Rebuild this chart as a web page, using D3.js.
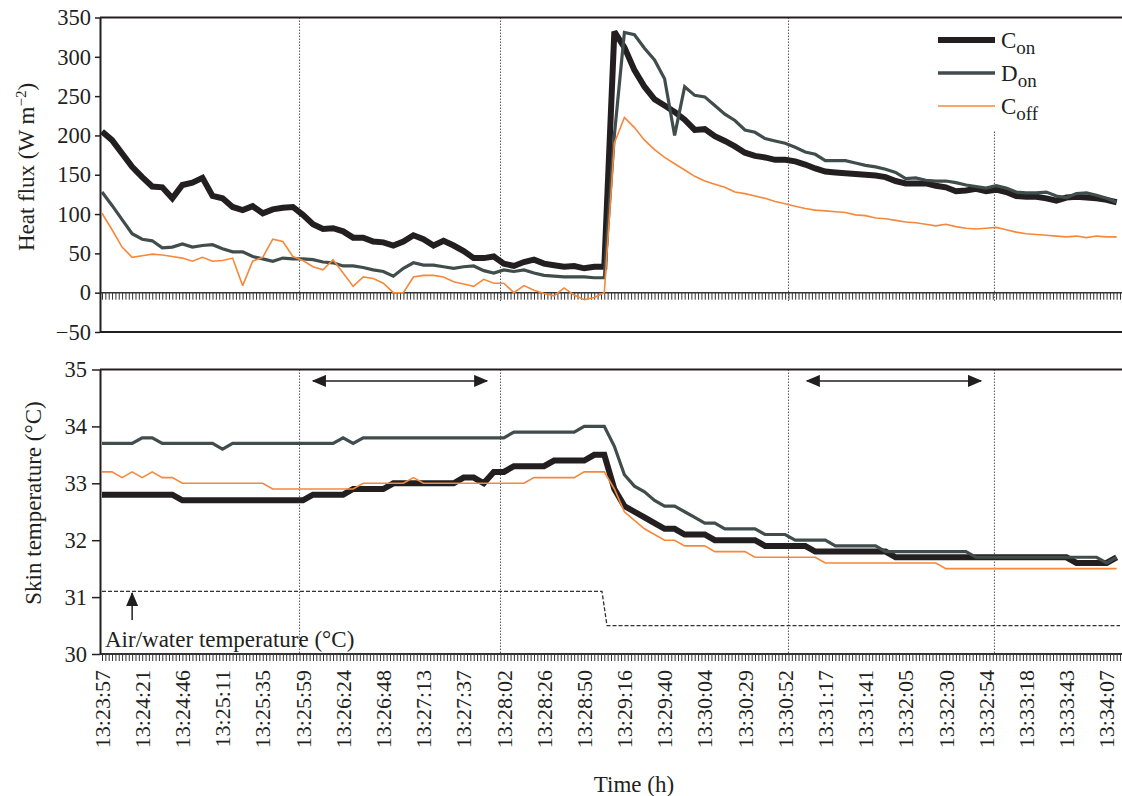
<!DOCTYPE html>
<html>
<head>
<meta charset="utf-8">
<script src="https://cdn.jsdelivr.net/npm/d3@7"></script>
<style>
  body { margin: 0; background: #fff; }
  svg text { font-family: "Liberation Serif", "Times New Roman", serif; fill: #231f20; }
</style>
</head>
<body>
<svg id="chart" width="1122" height="796"></svg>
<script>
// ---- data ----
// category labels, one every 12 samples
const timeLabels = ['13:23:57','13:24:21','13:24:46','13:25:11','13:25:35','13:25:59','13:26:24','13:26:48',
  '13:27:13','13:27:37','13:28:02','13:28:26','13:28:50','13:29:16','13:29:40','13:30:04','13:30:29',
  '13:30:52','13:31:17','13:31:41','13:32:05','13:32:30','13:32:54','13:33:18','13:33:43','13:34:07'];
const labelStep = 12;
const lastSample = 304;
const sampleStep = 3; // series below are read every 3rd sample

const heatTicks = [-50, 0, 50, 100, 150, 200, 250, 300, 350];
const tempTicks = [30, 31, 32, 33, 34, 35];

// heat flux (W m-2)
const heatCon = [205,194,177,160,147,135,134,120,137,140, 146,123,120,109,105,110,101,106,108,109,
  99,87,81,82,78,70,70,65,64,60, 65,73,68,60,66,60,53,44,44,46, 37,34,39,42,37,35,33,34,31,33,
  33,332,312,283,262,246,238,230,220,207, 208,199,193,186,178,174,172,169,169,167,
  163,158,154,153,152,151,150,149,147,142, 139,139,139,136,134,129,130,132,129,131,
  128,123,122,122,120,117,121,122,121,120, 118,115];
const heatDon = [128,111,93,75,68,66,57,58,62,58, 60,61,56,52,52,46,43,40,44,43,
  43,42,39,38,34,34,32,29,27,21, 31,38,35,35,33,31,33,34,28,25, 29,27,29,25,22,21,20,20,20,19,
  19,200,331,328,311,296,272,200,262,251, 249,238,227,219,207,204,196,193,190,185,
  179,176,168,168,168,165,162,160,157,153, 145,146,143,142,142,140,137,135,133,136,
  133,128,127,127,128,123,121,126,127,124, 120,115];
const heatCoff = [101,80,58,45,47,49,48,46,44,40, 45,40,41,44,9,40,45,68,65,46,
  41,33,29,42,25,8,20,18,12,0, 0,20,22,22,20,14,11,8,17,12, 12,0,9,3,-1,-4,6,-3,-9,-6,
  0,190,223,210,194,182,172,164,156,148, 142,138,134,128,126,123,120,116,113,110,
  107,105,104,103,102,99,98,95,94,92, 90,89,87,85,87,84,82,81,82,83,
  80,77,75,74,73,72,71,72,70,72, 71,71];

// skin temperature (°C)
const skinCon = [32.8,32.8,32.8,32.8,32.8,32.8,32.8,32.8,32.7,32.7, 32.7,32.7,32.7,32.7,32.7,32.7,32.7,32.7,32.7,32.7,
  32.7,32.8,32.8,32.8,32.8,32.9,32.9,32.9,32.9,33.0, 33.0,33.0,33.0,33.0,33.0,33.0,33.1,33.1,33.0,33.2,
  33.2,33.3,33.3,33.3,33.3,33.4,33.4,33.4,33.4,33.5, 33.5,32.9,32.6,32.5,32.4,32.3,32.2,32.2,32.1,32.1,
  32.1,32.0,32.0,32.0,32.0,32.0,31.9,31.9,31.9,31.9, 31.9,31.8,31.8,31.8,31.8,31.8,31.8,31.8,31.8,31.7,
  31.7,31.7,31.7,31.7,31.7,31.7,31.7,31.7,31.7,31.7, 31.7,31.7,31.7,31.7,31.7,31.7,31.7,31.6,31.6,31.6,
  31.6,31.7];
const skinDon = [33.7,33.7,33.7,33.7,33.8,33.8,33.7,33.7,33.7,33.7, 33.7,33.7,33.6,33.7,33.7,33.7,33.7,33.7,33.7,33.7,
  33.7,33.7,33.7,33.7,33.8,33.7,33.8,33.8,33.8,33.8, 33.8,33.8,33.8,33.8,33.8,33.8,33.8,33.8,33.8,33.8,
  33.8,33.9,33.9,33.9,33.9,33.9,33.9,33.9,34.0,34.0, 34.0,33.65,33.15,32.95,32.85,32.7,32.6,32.6,32.5,32.4,
  32.3,32.3,32.2,32.2,32.2,32.2,32.1,32.1,32.1,32.0, 32.0,32.0,32.0,31.9,31.9,31.9,31.9,31.9,31.8,31.8,
  31.8,31.8,31.8,31.8,31.8,31.8,31.8,31.7,31.7,31.7, 31.7,31.7,31.7,31.7,31.7,31.7,31.7,31.7,31.7,31.7,
  31.6,31.7];
const skinCoff = [33.2,33.2,33.1,33.2,33.1,33.2,33.1,33.1,33.0,33.0, 33.0,33.0,33.0,33.0,33.0,33.0,33.0,32.9,32.9,32.9,
  32.9,32.9,32.9,32.9,32.9,32.9,33.0,33.0,33.0,33.0, 33.0,33.1,33.0,33.0,33.0,33.0,33.0,33.0,33.0,33.0,
  33.0,33.0,33.0,33.1,33.1,33.1,33.1,33.1,33.2,33.2, 33.2,32.9,32.5,32.35,32.2,32.1,32.0,32.0,31.9,31.9,
  31.9,31.8,31.8,31.8,31.8,31.7,31.7,31.7,31.7,31.7, 31.7,31.7,31.6,31.6,31.6,31.6,31.6,31.6,31.6,31.6,
  31.6,31.6,31.6,31.6,31.5,31.5,31.5,31.5,31.5,31.5, 31.5,31.5,31.5,31.5,31.5,31.5,31.5,31.5,31.5,31.5,
  31.5,31.5];

// air/water temperature, step change
const airIdx = [0, 149.3, 150.8, 304];
const airTemp = [31.1, 31.1, 30.5, 30.5];

// dotted vertical markers (sample index) and the averaging windows (arrows)
const markerIdx = [59, 119, 205, 266.5];
const arrowSpans = [[63, 115], [210.5, 262.5]];

// ---- drawing ----
const ink = '#231f20';
const colCon = '#231f20', colDon = '#414d4d', colCoff = '#f5883a';
const sampleIdx = heatCon.map((_, k) => k * sampleStep);

const svg = d3.select('#chart');
const x = d3.scaleLinear().domain([0, lastSample]).range([102, 1120]);
const yHeat = d3.scaleLinear().domain([-50, 350]).range([332, 17.5]);
const yTemp = d3.scaleLinear().domain([30, 35]).range([654, 369.5]);

const defs = svg.append('defs');
defs.append('marker')
    .attr('id', 'head')
    .attr('viewBox', '0 0 14 12')
    .attr('refX', 13).attr('refY', 6)
    .attr('markerWidth', 14).attr('markerHeight', 12)
    .attr('markerUnits', 'userSpaceOnUse')
    .attr('orient', 'auto-start-reverse')
  .append('path')
    .attr('d', 'M0,0L14,6L0,12Z')
    .attr('fill', ink);

function drawMarkers(y0s, y1) {
  svg.append('g').selectAll('line')
    .data(markerIdx)
    .enter().append('line')
      .attr('x1', d => x(d)).attr('x2', d => x(d))
      .attr('y1', (d, i) => y0s[i]).attr('y2', y1)
      .attr('stroke', '#555')
      .attr('stroke-width', 1)
      .attr('stroke-dasharray', '1.5,1.5');
}

function minorTicks(yPos) {
  const ax = d3.axisBottom(x)
    .tickValues(d3.range(0, lastSample + 1))
    .tickSize(7)
    .tickFormat('');
  const g = svg.append('g').attr('transform', `translate(0,${yPos})`).call(ax);
  g.select('.domain').remove();
  g.selectAll('.tick line').attr('stroke', '#333').attr('stroke-width', 1);
}

function drawSeries(data, yScale, color, width) {
  const line = d3.line()
    .x((d, k) => x(sampleIdx[k]))
    .y(d => yScale(d));
  svg.append('path')
    .datum(data)
    .attr('d', line)
    .attr('fill', 'none')
    .attr('stroke', color)
    .attr('stroke-width', width)
    .attr('stroke-linejoin', 'miter')
    .attr('stroke-miterlimit', 2);
}

function leftAxis(yScale, ticks, size, pad) {
  const g = svg.append('g')
    .attr('transform', 'translate(100,0)')
    .call(d3.axisLeft(yScale).tickValues(ticks).tickSize(size).tickPadding(pad)
      .tickSizeOuter(0).tickFormat(d3.format('d')));
  g.select('.domain').attr('stroke', ink).attr('stroke-width', 2);
  g.selectAll('.tick line').attr('stroke', ink).attr('stroke-width', 1.5);
  g.selectAll('.tick text')
    .style('font-family', '"Liberation Serif", serif')
    .style('font-size', '22.5px')
    .attr('fill', ink);
}

// ---- top panel: heat flux ----
drawMarkers(markerIdx.map((d, i) => i === 3 ? yHeat(205) : yHeat(350)), yHeat(0) + 9);
minorTicks(yHeat(0));
svg.append('line').attr('x1', 100).attr('x2', 1122).attr('y1', yHeat(0)).attr('y2', yHeat(0))
  .attr('stroke', '#333').attr('stroke-width', 1.5);
[350, -50].forEach(v => {
  svg.append('line').attr('x1', 100).attr('x2', 1122).attr('y1', yHeat(v)).attr('y2', yHeat(v))
    .attr('stroke', ink).attr('stroke-width', 2);
});
leftAxis(yHeat, heatTicks, 5, 4);

drawSeries(heatCon, yHeat, colCon, 6);
drawSeries(heatDon, yHeat, colDon, 3.2);
drawSeries(heatCoff, yHeat, colCoff, 1.6);

const heatTitle = svg.append('text')
  .attr('transform', 'translate(26,167) rotate(-90)')
  .attr('text-anchor', 'middle')
  .attr('dy', '0.35em')
  .style('font-size', '23px');
heatTitle.append('tspan').text('Heat flux (W m');
heatTitle.append('tspan').attr('dy', -8).style('font-size', '15px').text('\u22122');
heatTitle.append('tspan').attr('dy', 8).text(')');

// legend
const legend = [
  { main: 'C', sub: 'on', color: colCon, width: 6 },
  { main: 'D', sub: 'on', color: colDon, width: 3.5 },
  { main: 'C', sub: 'off', color: colCoff, width: 1.6 }
];
const lg = svg.append('g');
legend.forEach((d, i) => {
  const cy = 40 + i * 33;
  lg.append('line').attr('x1', 938).attr('x2', 995).attr('y1', cy).attr('y2', cy)
    .attr('stroke', d.color).attr('stroke-width', d.width);
  const t = lg.append('text').attr('x', 1001).attr('y', cy + 8).style('font-size', '23px');
  t.append('tspan').text(d.main);
  t.append('tspan').attr('dy', 6).style('font-size', '19px').text(d.sub);
});

// ---- bottom panel: skin temperature ----
drawMarkers(markerIdx.map(() => yTemp(35)), yTemp(30));
minorTicks(yTemp(30));
svg.append('line').attr('x1', 100).attr('x2', 1122).attr('y1', yTemp(35)).attr('y2', yTemp(35))
  .attr('stroke', ink).attr('stroke-width', 2);
svg.append('line').attr('x1', 100).attr('x2', 1122).attr('y1', yTemp(30)).attr('y2', yTemp(30))
  .attr('stroke', '#333').attr('stroke-width', 2);
leftAxis(yTemp, tempTicks, 8, 5);

svg.append('path')
  .datum(airTemp)
  .attr('d', d3.line().x((d, i) => x(airIdx[i])).y(d => yTemp(d)))
  .attr('fill', 'none')
  .attr('stroke', '#333')
  .attr('stroke-width', 1.3)
  .attr('stroke-dasharray', '4,2');

drawSeries(skinCon, yTemp, colCon, 6);
drawSeries(skinDon, yTemp, colDon, 3.2);
drawSeries(skinCoff, yTemp, colCoff, 1.6);

// averaging windows
arrowSpans.forEach(s => {
  svg.append('line')
    .attr('x1', x(s[0])).attr('x2', x(s[1]))
    .attr('y1', yTemp(34.8)).attr('y2', yTemp(34.8))
    .attr('stroke', ink).attr('stroke-width', 1.5)
    .attr('marker-start', 'url(#head)')
    .attr('marker-end', 'url(#head)');
});

// air/water annotation
svg.append('line')
  .attr('x1', x(9)).attr('x2', x(9))
  .attr('y1', 620).attr('y2', 593)
  .attr('stroke', ink).attr('stroke-width', 1.5)
  .attr('marker-end', 'url(#head)');
svg.append('text').attr('x', 105).attr('y', 647).style('font-size', '23px')
  .text('Air/water temperature (\u00b0C)');

svg.append('text')
  .attr('transform', 'translate(33,503) rotate(-90)')
  .attr('text-anchor', 'middle')
  .attr('dy', '0.35em')
  .style('font-size', '23px')
  .text('Skin temperature (\u00b0C)');

// x labels
svg.append('g').selectAll('text')
  .data(timeLabels)
  .enter().append('text')
    .attr('transform', (d, i) => `translate(${x(i * labelStep)},670) rotate(-90)`)
    .attr('text-anchor', 'end')
    .attr('dy', '0.35em')
    .style('font-size', '22px')
    .text(d => d);

svg.append('text')
  .attr('x', 634).attr('y', 792)
  .attr('text-anchor', 'middle')
  .style('font-size', '23px')
  .text('Time (h)');
</script>
</body>
</html>
